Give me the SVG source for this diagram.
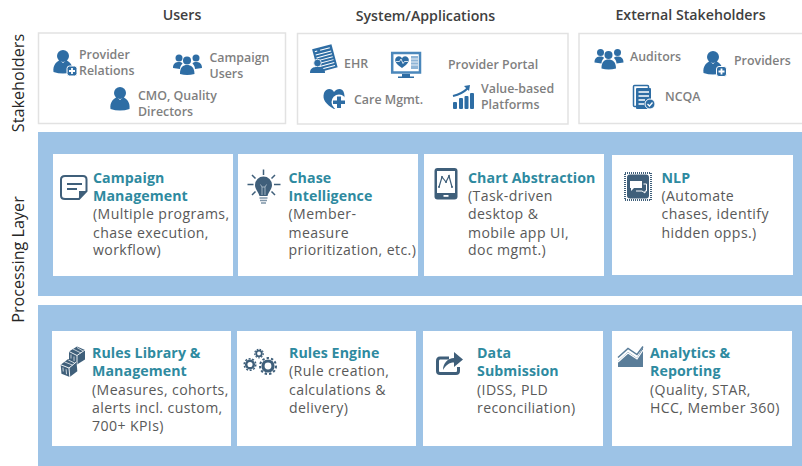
<svg xmlns="http://www.w3.org/2000/svg" width="802" height="466" viewBox="0 0 802 466">
<style>
text{font-family:"Open Sans","Noto Sans","Liberation Sans",sans-serif}
.hd{font-size:14.2px;font-weight:600;fill:#404040;text-anchor:middle}
.side{font-size:16.2px;fill:#262626;text-anchor:middle}
.lb{font-size:12.4px;font-weight:600;fill:#7f7f7f}
.tt{font-size:14.2px;font-weight:700;fill:#2e8aa0;letter-spacing:.08px}
.ds{font-size:14.1px;font-weight:500;fill:#595959;letter-spacing:.4px}
.box{fill:#fff;stroke:#e2e2e2;stroke-width:1.5}
.band{fill:#9dc3e6}
.card{fill:#fff}
.ic{fill:#2e6da4}
.dk{fill:#3f5f7a}
</style>
<defs>
<g id="person"><circle cx="0" cy="-8" r="6"/><path d="M-9.500 8C-10.500 1-6-3-3-3.500L0-1 3-3.500C6-3 10.500 1 9.500 8Q0 11-9.500 8Z"/></g>
<g id="badge"><rect x="-5" y="-5" width="10" height="10" rx="2.500" fill="#2e6da4" stroke="#fff" stroke-width="1"/><path d="M-3 0H3M0-3V3" stroke="#fff" stroke-width="1.800"/></g>
<g id="group"><circle cx="-8" cy="-7" r="3.500"/><circle cx="9" cy="-7" r="3.500"/><circle cx="0" cy="-4.500" r="4"/><path d="M-14 3C-14-2-11-3-8-3-6-3-5-2.500-4.500-1.500-6 0-7 2-7 4ZM15 3C15-2 12-3 9-3 7-3 6-2.500 5.500-1.500 7 0 8 2 8 4ZM-7 9C-7 2-4 0 0 0S7.500 2 7.500 9Q0 11-7 9Z"/></g>
<g id="cube"><path d="M0-9L8-5.500 8 4 0 9-8 5-8-4Z"/><path d="M-8-4L0 0 8-5.500M0 0V9" fill="none" stroke="#fff" stroke-width=".9"/><path d="M-4-6.500L4-2.500M0-8L6-4.500M-6-1V3M-3 1V6" fill="none" stroke="#fff" stroke-width=".7"/></g>
</defs>

<g id="headers">
<text class="hd" x="182" y="20">Users</text>
<text class="hd" x="425.500" y="21">System/Applications</text>
<text class="hd" x="690.500" y="20">External Stakeholders</text>
<text class="side" transform="translate(24 83) rotate(-90)">Stakeholders</text>
<text class="side" transform="translate(24 259.500) rotate(-90)">Processing Layer</text>
</g>

<g id="band-1"><rect class="band" x="38" y="132" width="764" height="164"/></g>
<g id="band-2"><rect class="band" x="38" y="305" width="764" height="161"/></g>

<g id="users-box">
<rect class="box" x="38.500" y="33" width="247" height="90.500"/>
<g id="provider-relations">
<use href="#person" x="63" y="64" class="ic"/><use href="#badge" x="72" y="71"/>
<text class="lb" x="79" y="59">Provider</text><text class="lb" x="79" y="75">Relations</text>
</g>
<g id="campaign-users">
<use href="#group" x="187" y="65" class="ic"/>
<text class="lb" x="209.500" y="62">Campaign</text><text class="lb" x="209.500" y="78">Users</text>
</g>
<g id="cmo">
<use href="#person" x="120" y="101" class="ic"/>
<text class="lb" x="138" y="99.500">CMO, Quality</text><text class="lb" x="138" y="115.500">Directors</text>
</g>
</g>

<g id="systems-box">
<rect class="box" x="297.500" y="33.500" width="270.500" height="90.500"/>
<g id="ehr">
<g transform="rotate(-15 324 57)"><rect x="314.500" y="46.500" width="20" height="24" fill="#2e6da4"/><path d="M316.500 49.500H319M322 49.500H332M316.500 53H332.500M316.500 56H332.500M316.500 59H332.500M316.500 62H332.500M316.500 65H332.500M316.500 68H332.500" stroke="#fff" stroke-width="1"/></g>
<circle cx="317.500" cy="63" r="3.800" fill="#2e6da4" stroke="#fff" stroke-width=".8"/><path d="M310 73C310 68 313 67 317.500 67S325 68 325 73Z" fill="#2e6da4"/>
<text class="lb" x="344" y="68">EHR</text>
</g>
<g id="provider-portal">
<rect x="392.200" y="53" width="27.800" height="19.500" fill="#fff" stroke="#4a87bb" stroke-width="2.500"/>
<path d="M402 74H410V76.500H414V78H398V76.500H402Z" fill="#2e6da4"/>
<path d="M402 68C396 64 394.500 61 395.500 58.500 397.500 55 401 56 402 58.500 403 56 406.500 55 408.500 58.500 409.500 61 408 64 402 68Z" fill="#2e6da4"/>
<path d="M396 61.500H399.500L401 59 403 63.500 404.500 61.500H408" fill="none" stroke="#fff" stroke-width=".8"/>
<rect x="411" y="56" width="7" height="13" fill="#8fb5d6"/>
<path d="M411 59H418M411 62H418M411 65H418" stroke="#fff" stroke-width=".8"/>
<text class="lb" x="448" y="69">Provider Portal</text>
</g>
<g id="care-mgmt">
<path d="M334 109C326 104 322 100 324 93 326 88 332 88 334 92 337 88 343 88 344 93 346 100 342 104 334 109Z" fill="#2e6da4"/>
<circle cx="339" cy="102" r="7.500" fill="#fff"/>
<path d="M337 96.500H341V100.500H345V104H341V108H337V104H333V100.500H337Z" fill="#2e6da4"/>
<text class="lb" x="354" y="104">Care Mgmt.</text>
</g>
<g id="value-platforms">
<path d="M453 96Q462 94 468 88" fill="none" stroke="#2e6da4" stroke-width="2.200"/><path d="M464 86L470 85 469 91Z" fill="#2e6da4"/>
<rect x="453" y="102" width="4" height="7" rx="1" fill="#2e6da4"/><rect x="459" y="98" width="4" height="11" rx="1" fill="#2e6da4"/><rect x="464.500" y="96" width="4" height="13" rx="1" fill="#2e6da4"/><rect x="470" y="93" width="4" height="16" rx="1" fill="#2e6da4"/>
<text class="lb" x="481" y="93">Value-based</text><text class="lb" x="481" y="109">Platforms</text>
</g>
</g>

<g id="external-box">
<rect class="box" x="579" y="33.500" width="226" height="90"/>
<g id="auditors">
<use href="#group" x="608.500" y="59.500" class="ic"/>
<text class="lb" x="630" y="61">Auditors</text>
</g>
<g id="providers">
<use href="#person" x="713" y="65" class="ic"/><use href="#badge" x="721.500" y="71.500"/>
<text class="lb" x="734" y="65">Providers</text>
</g>
<g id="ncqa">
<rect x="633.500" y="85.500" width="15" height="21" rx="1" fill="none" stroke="#2e6da4" stroke-width="1.500"/>
<rect x="636" y="88" width="15" height="21" rx="1" fill="#2e6da4"/>
<path d="M638.500 92H649M638.500 96H649M638.500 100H645M638.500 104H644" stroke="#fff" stroke-width="1.500"/>
<circle cx="650" cy="104" r="5" fill="#2e6da4" stroke="#fff"/><path d="M647.500 104L649.500 106 652.500 102.500" fill="none" stroke="#fff" stroke-width="1.300"/>
<text class="lb" x="665" y="101">NCQA</text>
</g>
</g>

<g id="campaign-management">
<rect class="card" x="53" y="154" width="180" height="122"/>
<path d="M65 176H83Q86.500 176 86.500 179.500V191L79 199H65Q61 199 61 195.500V179.500Q61 176 65 176Z" fill="none" stroke="#3f5f7a" stroke-width="2"/>
<path d="M79 199V191H86.500Z" class="dk"/>
<path d="M67 184H82M67 189H77" stroke="#3f5f7a" stroke-width="1.800"/>
<text class="tt" x="93" y="183">Campaign</text><text class="tt" x="93" y="201">Management</text>
<text class="ds" x="93" y="219">(Multiple programs,</text><text class="ds" x="93" y="237.500">chase execution,</text><text class="ds" x="93" y="255">workflow)</text>
</g>
<g id="chase-intelligence">
<rect class="card" x="238" y="154" width="180" height="122"/>
<path d="M263.500 169.500V175M252 175L255.500 178.500M275 175L271.500 178.500M247.500 184.500H253.500M274 184.500H280.500M252 195L255.500 191.500M275 195L271.500 191.500" stroke="#3f5f7a" stroke-width="1.500"/>
<path d="M259.500 196C258 191 255 189 255 185A8.500 8.500 0 0 1 272 185C272 189 269 191 267.500 196Z" class="dk"/>
<path d="M262 195V187L260.500 184.500M265 195V187L266.500 184.500M262 187H265" fill="none" stroke="#b8c6d2" stroke-width=".8"/>
<path d="M259.500 198H267.500M260 200.500H267M261 203H266" stroke="#7f95a8" stroke-width="1.500"/>
<text class="tt" x="288.500" y="183">Chase</text><text class="tt" x="288.500" y="201">Intelligence</text>
<text class="ds" x="288.500" y="219">(Member-</text><text class="ds" x="288.500" y="237.500">measure</text><text class="ds" x="288.500" y="255">prioritization, etc.)</text>
</g>
<g id="chart-abstraction">
<rect class="card" x="424" y="154" width="180" height="122"/>
<rect x="434.500" y="168" width="23" height="31.500" rx="3" class="dk"/>
<rect x="437" y="171" width="18" height="22" fill="#fff"/><rect x="443.500" y="195" width="5" height="1.800" fill="#fff"/>
<path d="M439 187L442 177 446 182 449 176 452 187" fill="none" stroke="#3f5f7a" stroke-width="1.200"/>
<g class="dk"><circle cx="439" cy="187" r="1"/><circle cx="442" cy="177" r="1"/><circle cx="446" cy="182" r="1"/><circle cx="449" cy="176" r="1"/><circle cx="452" cy="187" r="1"/></g>
<text class="tt" x="468" y="183">Chart Abstraction</text>
<text class="ds" x="468" y="201">(Task-driven</text><text class="ds" x="468" y="219">desktop &amp;</text><text class="ds" x="468" y="237.500">mobile app UI,</text><text class="ds" x="468" y="255">doc mgmt.)</text>
</g>
<g id="nlp">
<rect class="card" x="612" y="155" width="181" height="120"/>
<rect x="625" y="173" width="26" height="27" fill="none" stroke="#3f5f7a" stroke-width="2" stroke-dasharray="1 1"/>
<rect x="627" y="174.500" width="22" height="24" rx="3" class="dk"/>
<path d="M630 181H642V188H634L631 191V188H630Z" fill="#fff"/><path d="M643.500 184H646.500V191H645V193L642 191H636" fill="none" stroke="#fff"/>
<text class="tt" x="661.500" y="183">NLP</text>
<text class="ds" x="661.500" y="201">(Automate</text><text class="ds" x="661.500" y="219">chases, identify</text><text class="ds" x="661.500" y="237.500">hidden opps.)</text>
</g>
<g id="rules-library">
<rect class="card" x="52" y="331" width="179" height="115"/>
<use href="#cube" x="77" y="355.500" class="dk"/>
<use href="#cube" x="69" y="368" class="dk" transform="rotate(-5 69 368)"/>
<text class="tt" x="92" y="358">Rules Library &amp;</text><text class="tt" x="92" y="376">Management</text>
<text class="ds" x="92" y="395">(Measures, cohorts,</text><text class="ds" x="92" y="413">alerts incl. custom,</text><text class="ds" x="92" y="431">700+ KPIs)</text>
</g>
<g id="rules-engine">
<rect class="card" x="237" y="331" width="179" height="115"/>
<circle cx="268" cy="366" r="5" fill="none" stroke="#3f5f7a" stroke-width="3.200"/>
<circle cx="268" cy="366" r="8" fill="none" stroke="#3f5f7a" stroke-width="2" stroke-dasharray="2.400 2.100"/>
<circle cx="250" cy="364.500" r="3.800" fill="none" stroke="#3f5f7a" stroke-width="2.500"/>
<circle cx="250" cy="364.500" r="5.800" fill="none" stroke="#3f5f7a" stroke-width="1.500" stroke-dasharray="2 1.600"/>
<circle cx="259" cy="353.500" r="2.800" fill="none" stroke="#3f5f7a" stroke-width="1.800"/>
<circle cx="259" cy="353.500" r="4.300" fill="none" stroke="#3f5f7a" stroke-width="1.200" stroke-dasharray="1.600 1.300"/>
<text class="tt" x="289" y="358">Rules Engine</text>
<text class="ds" x="289" y="376">(Rule creation,</text><text class="ds" x="289" y="395">calculations &amp;</text><text class="ds" x="289" y="413">delivery)</text>
</g>
<g id="data-submission">
<rect class="card" x="423" y="331" width="180" height="115"/>
<path d="M449 358H440Q437.500 358 437.500 361V371Q437.500 373.500 440 373.500H456Q458.500 373.500 458.500 371V367" fill="none" stroke="#3f5f7a" stroke-width="3"/>
<path d="M443 370C443 363 448 358 454 358V352L463 359.500 454 367V362.500C449 362.500 446 365 443 370Z" class="dk"/>
<text class="tt" x="477" y="358">Data</text><text class="tt" x="477" y="376">Submission</text>
<text class="ds" x="477" y="395">(IDSS, PLD</text><text class="ds" x="477" y="413">reconciliation)</text>
</g>
<g id="analytics-reporting">
<rect class="card" x="612" y="331" width="180" height="115"/>
<path d="M618 367V361L628 352 637 358 643 347V367Z" fill="#5a7d99"/>
<path d="M618 359L628 350 637 356 643 348" transform="translate(0 -1.500)" fill="none" stroke="#5a7d99" stroke-width="1.500"/>
<path d="M618 362L628 353 637 359 643 350" fill="none" stroke="#fff" stroke-width="1.200"/>
<text class="tt" x="650" y="358">Analytics &amp;</text><text class="tt" x="650" y="376">Reporting</text>
<text class="ds" x="650" y="395">(Quality, STAR,</text><text class="ds" x="650" y="413">HCC, Member 360)</text>
</g>
</svg>
